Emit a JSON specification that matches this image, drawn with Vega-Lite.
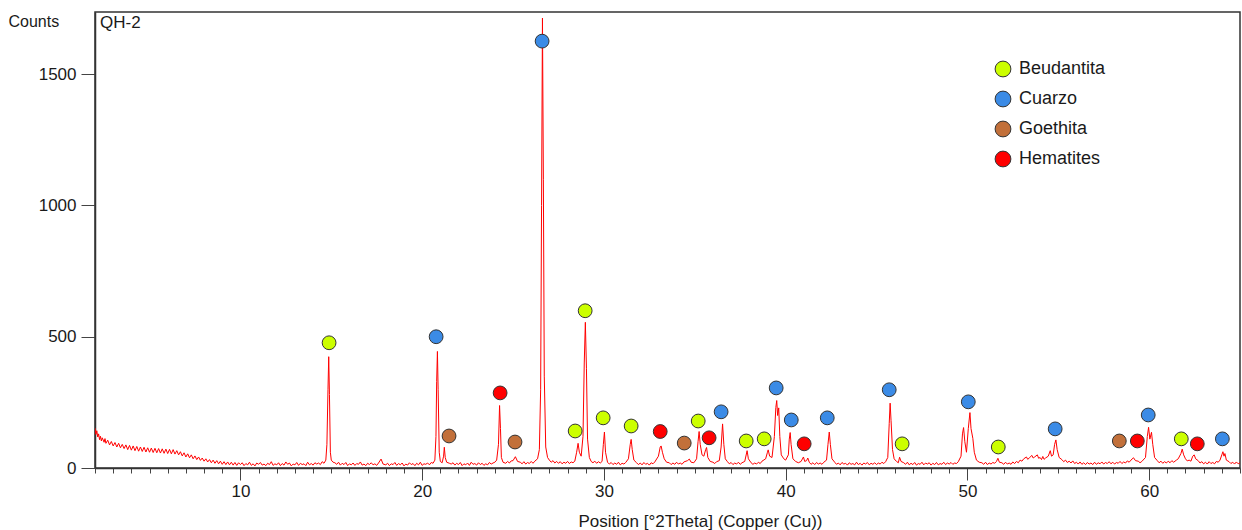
{
"$schema": "https://vega.github.io/schema/vega-lite/v6.json",
"width": 1145,
"height": 456,
"autosize": "none",
"padding": {"left": 95, "top": 12, "right": 2, "bottom": 62},
"background": "white",
"config": {
  "view": {"stroke": "#333333", "strokeWidth": 1.5},
  "font": "Liberation Sans",
  "axis": {"labelFont": "Liberation Sans", "titleFont": "Liberation Sans", "labelColor": "#1a1a1a", "titleColor": "#1a1a1a", "grid": false, "domainColor": "#333333", "domainWidth": 1.5, "tickColor": "#444444", "labelFontSize": 17, "titleFontSize": 17, "titleFontWeight": "normal", "labelOverlap": false}
},
"title": {"text": "QH-2", "anchor": "start", "frame": "group", "orient": "top", "offset": 0, "dx": 5, "dy": 33, "baseline": "alphabetic", "fontSize": 17, "fontWeight": "normal", "font": "Liberation Sans", "color": "#1a1a1a"},
"datasets": {
"xrd": [
{"t":2.0,"c":152},{"t":2.05,"c":128},{"t":2.1,"c":142},{"t":2.15,"c":118},{"t":2.2,"c":130},{"t":2.25,"c":108},{"t":2.3,"c":121},{"t":2.35,"c":103},{"t":2.4,"c":115},{"t":2.5,"c":98},{"t":2.55,"c":112},{"t":2.6,"c":94},{"t":2.7,"c":106},{"t":2.8,"c":88},{"t":2.9,"c":101},{"t":3.0,"c":84},{"t":3.1,"c":97},{"t":3.2,"c":80},{"t":3.3,"c":94},{"t":3.4,"c":77},{"t":3.5,"c":90},{"t":3.6,"c":74},{"t":3.7,"c":88},{"t":3.8,"c":70},{"t":3.9,"c":86},{"t":4.0,"c":68},{"t":4.1,"c":84},{"t":4.2,"c":66},{"t":4.3,"c":82},{"t":4.4,"c":64},{"t":4.5,"c":80},{"t":4.6,"c":63},{"t":4.7,"c":79},{"t":4.8,"c":61},{"t":4.9,"c":77},{"t":5.0,"c":60},{"t":5.1,"c":76},{"t":5.2,"c":59},{"t":5.3,"c":75},{"t":5.4,"c":58},{"t":5.5,"c":74},{"t":5.6,"c":57},{"t":5.7,"c":73},{"t":5.8,"c":56},{"t":5.9,"c":72},{"t":6.0,"c":55},{"t":6.1,"c":71},{"t":6.2,"c":54},{"t":6.3,"c":70},{"t":6.4,"c":53},{"t":6.5,"c":66},{"t":6.6,"c":50},{"t":6.7,"c":62},{"t":6.8,"c":46},{"t":6.9,"c":58},{"t":7.0,"c":42},{"t":7.1,"c":54},{"t":7.2,"c":39},{"t":7.3,"c":50},{"t":7.4,"c":35},{"t":7.5,"c":46},{"t":7.6,"c":32},{"t":7.7,"c":42},{"t":7.8,"c":29},{"t":7.9,"c":38},{"t":8.0,"c":26},{"t":8.1,"c":35},{"t":8.2,"c":23},{"t":8.3,"c":32},{"t":8.4,"c":20},{"t":8.5,"c":30},{"t":8.6,"c":18},{"t":8.7,"c":28},{"t":8.8,"c":16},{"t":8.9,"c":26},{"t":9.0,"c":14},{"t":9.1,"c":24},{"t":9.2,"c":13},{"t":9.3,"c":23},{"t":9.4,"c":12},{"t":9.5,"c":22},{"t":9.6,"c":11},{"t":9.7,"c":21},{"t":9.8,"c":10},{"t":9.9,"c":20},
{"t":10.0,"c":13},{"t":10.1,"c":20},{"t":10.2,"c":9},{"t":10.3,"c":17},{"t":10.4,"c":12},{"t":10.5,"c":22},{"t":10.6,"c":10},{"t":10.7,"c":16},{"t":10.8,"c":8},{"t":10.9,"c":19},{"t":11.0,"c":14},{"t":11.1,"c":21},{"t":11.2,"c":11},{"t":11.3,"c":15},{"t":11.4,"c":9},{"t":11.5,"c":18},{"t":11.6,"c":13},{"t":11.7,"c":24},{"t":11.8,"c":10},{"t":11.9,"c":16},{"t":12.0,"c":12},{"t":12.1,"c":20},{"t":12.2,"c":9},{"t":12.3,"c":17},{"t":12.4,"c":11},{"t":12.5,"c":23},{"t":12.6,"c":14},{"t":12.7,"c":19},{"t":12.8,"c":8},{"t":12.9,"c":15},{"t":13.0,"c":12},{"t":13.1,"c":21},{"t":13.2,"c":10},{"t":13.3,"c":18},{"t":13.4,"c":13},{"t":13.5,"c":16},{"t":13.6,"c":9},{"t":13.7,"c":22},{"t":13.8,"c":12},{"t":13.9,"c":17},{"t":14.0,"c":11},{"t":14.1,"c":20},{"t":14.2,"c":15},{"t":14.3,"c":19},{"t":14.4,"c":13},{"t":14.5,"c":24},{"t":14.6,"c":18},
{"t":14.7,"c":30},{"t":14.76,"c":90},{"t":14.82,"c":300},{"t":14.86,"c":424},{"t":14.9,"c":280},{"t":14.95,"c":60},{"t":15.0,"c":30},{"t":15.1,"c":22},
{"t":15.2,"c":20},{"t":15.3,"c":14},{"t":15.4,"c":22},{"t":15.5,"c":11},{"t":15.6,"c":18},{"t":15.7,"c":13},{"t":15.8,"c":21},{"t":15.9,"c":9},{"t":16.0,"c":16},{"t":16.1,"c":12},{"t":16.2,"c":19},{"t":16.3,"c":10},{"t":16.4,"c":17},{"t":16.5,"c":14},{"t":16.6,"c":23},{"t":16.7,"c":11},{"t":16.8,"c":15},{"t":16.9,"c":9},{"t":17.0,"c":18},{"t":17.1,"c":13},{"t":17.2,"c":20},{"t":17.3,"c":12},{"t":17.4,"c":16},{"t":17.5,"c":10},{"t":17.6,"c":19},{"t":17.74,"c":34},{"t":17.85,"c":15},
{"t":18.0,"c":12},{"t":18.1,"c":18},{"t":18.2,"c":9},{"t":18.3,"c":16},{"t":18.4,"c":13},{"t":18.5,"c":21},{"t":18.6,"c":10},{"t":18.7,"c":17},{"t":18.8,"c":12},{"t":18.9,"c":19},{"t":19.0,"c":8},{"t":19.1,"c":15},{"t":19.2,"c":11},{"t":19.3,"c":20},{"t":19.4,"c":13},{"t":19.5,"c":17},{"t":19.6,"c":9},{"t":19.7,"c":18},{"t":19.8,"c":12},{"t":19.9,"c":22},{"t":20.0,"c":10},{"t":20.1,"c":16},{"t":20.2,"c":14},{"t":20.3,"c":19},{"t":20.4,"c":12},{"t":20.5,"c":21},{"t":20.6,"c":18},
{"t":20.7,"c":30},{"t":20.76,"c":120},{"t":20.8,"c":330},{"t":20.84,"c":444},{"t":20.88,"c":300},{"t":20.94,"c":60},{"t":21.0,"c":25},{"t":21.1,"c":20},{"t":21.18,"c":45},{"t":21.22,"c":79},{"t":21.27,"c":40},{"t":21.35,"c":22},{"t":21.5,"c":18},
{"t":21.6,"c":15},{"t":21.7,"c":20},{"t":21.8,"c":11},{"t":21.9,"c":18},{"t":22.0,"c":13},{"t":22.1,"c":21},{"t":22.2,"c":9},{"t":22.3,"c":16},{"t":22.4,"c":12},{"t":22.5,"c":19},{"t":22.6,"c":10},{"t":22.7,"c":22},{"t":22.8,"c":14},{"t":22.9,"c":17},{"t":23.0,"c":11},{"t":23.1,"c":20},{"t":23.2,"c":13},{"t":23.3,"c":18},{"t":23.4,"c":10},{"t":23.5,"c":16},{"t":23.6,"c":12},{"t":23.7,"c":21},{"t":23.8,"c":15},{"t":23.9,"c":19},{"t":24.0,"c":22},
{"t":24.1,"c":30},{"t":24.2,"c":90},{"t":24.26,"c":238},{"t":24.31,"c":150},{"t":24.36,"c":40},{"t":24.45,"c":22},{"t":24.6,"c":18},{"t":24.7,"c":25},{"t":24.8,"c":19},{"t":24.9,"c":27},{"t":25.0,"c":28},{"t":25.13,"c":43},{"t":25.25,"c":25},
{"t":25.4,"c":22},{"t":25.5,"c":16},{"t":25.6,"c":24},{"t":25.7,"c":15},{"t":25.8,"c":21},{"t":25.9,"c":17},{"t":26.0,"c":25},{"t":26.1,"c":18},{"t":26.2,"c":26},
{"t":26.35,"c":35},{"t":26.45,"c":70},{"t":26.52,"c":300},{"t":26.57,"c":1000},{"t":26.62,"c":1714},{"t":26.67,"c":1100},{"t":26.72,"c":350},{"t":26.8,"c":80},{"t":26.9,"c":40},
{"t":27.0,"c":30},{"t":27.1,"c":22},{"t":27.2,"c":28},{"t":27.3,"c":19},{"t":27.4,"c":25},{"t":27.5,"c":18},{"t":27.6,"c":24},{"t":27.7,"c":16},{"t":27.8,"c":22},{"t":27.9,"c":18},{"t":28.0,"c":25},{"t":28.1,"c":17},{"t":28.2,"c":23},{"t":28.3,"c":20},{"t":28.4,"c":26},
{"t":28.5,"c":60},{"t":28.58,"c":94},{"t":28.65,"c":60},{"t":28.75,"c":45},{"t":28.85,"c":120},{"t":28.92,"c":400},{"t":28.98,"c":555},{"t":29.04,"c":380},{"t":29.1,"c":110},{"t":29.2,"c":40},{"t":29.3,"c":25},
{"t":29.4,"c":20},{"t":29.5,"c":26},{"t":29.6,"c":18},{"t":29.7,"c":24},{"t":29.8,"c":19},{"t":29.9,"c":25},{"t":29.97,"c":90},{"t":30.03,"c":137},{"t":30.09,"c":60},
{"t":30.2,"c":22},{"t":30.3,"c":15},{"t":30.4,"c":21},{"t":30.5,"c":13},{"t":30.6,"c":19},{"t":30.7,"c":14},{"t":30.8,"c":22},{"t":30.9,"c":12},{"t":31.0,"c":18},{"t":31.1,"c":15},{"t":31.2,"c":21},
{"t":31.35,"c":35},{"t":31.45,"c":90},{"t":31.5,"c":109},{"t":31.56,"c":70},{"t":31.65,"c":30},
{"t":31.8,"c":20},{"t":31.9,"c":13},{"t":32.0,"c":19},{"t":32.1,"c":12},{"t":32.2,"c":21},{"t":32.3,"c":14},{"t":32.4,"c":18},{"t":32.5,"c":11},{"t":32.6,"c":20},{"t":32.7,"c":16},{"t":32.8,"c":23},
{"t":33.0,"c":45},{"t":33.1,"c":80},{"t":33.15,"c":84},{"t":33.22,"c":60},{"t":33.32,"c":35},{"t":33.45,"c":22},
{"t":33.6,"c":20},{"t":33.7,"c":13},{"t":33.8,"c":19},{"t":33.9,"c":14},{"t":34.0,"c":22},{"t":34.1,"c":15},{"t":34.2,"c":19},{"t":34.3,"c":14},{"t":34.4,"c":23},
{"t":34.6,"c":28},{"t":34.7,"c":34},{"t":34.8,"c":22},{"t":34.95,"c":20},{"t":35.1,"c":35},{"t":35.18,"c":100},{"t":35.24,"c":139},{"t":35.3,"c":90},{"t":35.4,"c":50},{"t":35.5,"c":45},{"t":35.6,"c":70},{"t":35.65,"c":78},{"t":35.72,"c":40},{"t":35.85,"c":25},{"t":36.0,"c":22},{"t":36.1,"c":17},{"t":36.2,"c":24},{"t":36.35,"c":28},{"t":36.45,"c":80},{"t":36.53,"c":168},{"t":36.6,"c":90},{"t":36.68,"c":35},
{"t":36.8,"c":24},{"t":36.9,"c":16},{"t":37.0,"c":21},{"t":37.1,"c":13},{"t":37.2,"c":19},{"t":37.3,"c":15},{"t":37.4,"c":22},{"t":37.5,"c":14},{"t":37.6,"c":20},
{"t":37.75,"c":25},{"t":37.88,"c":66},{"t":37.95,"c":35},
{"t":38.1,"c":20},{"t":38.2,"c":14},{"t":38.3,"c":19},{"t":38.4,"c":15},{"t":38.5,"c":22},{"t":38.6,"c":17},{"t":38.7,"c":26},
{"t":38.9,"c":35},{"t":39.0,"c":60},{"t":39.04,"c":69},{"t":39.12,"c":45},{"t":39.25,"c":40},{"t":39.38,"c":120},{"t":39.46,"c":230},{"t":39.51,"c":257},{"t":39.56,"c":200},{"t":39.62,"c":229},{"t":39.68,"c":120},{"t":39.76,"c":50},{"t":39.9,"c":35},{"t":40.0,"c":30},{"t":40.15,"c":50},{"t":40.2,"c":110},{"t":40.25,"c":135},{"t":40.3,"c":90},{"t":40.4,"c":35},{"t":40.55,"c":25},{"t":40.7,"c":20},{"t":40.85,"c":25},{"t":40.98,"c":42},{"t":41.05,"c":25},{"t":41.15,"c":28},{"t":41.22,"c":38},{"t":41.3,"c":22},
{"t":41.4,"c":14},{"t":41.5,"c":20},{"t":41.6,"c":13},{"t":41.7,"c":21},{"t":41.8,"c":15},{"t":41.9,"c":19},{"t":42.0,"c":14},{"t":42.1,"c":22},
{"t":42.25,"c":30},{"t":42.33,"c":90},{"t":42.4,"c":137},{"t":42.46,"c":90},{"t":42.55,"c":35},
{"t":42.7,"c":22},{"t":42.8,"c":14},{"t":42.9,"c":19},{"t":43.0,"c":12},{"t":43.1,"c":21},{"t":43.2,"c":15},{"t":43.3,"c":18},{"t":43.4,"c":11},{"t":43.5,"c":20},{"t":43.6,"c":14},{"t":43.7,"c":17},{"t":43.8,"c":12},{"t":43.9,"c":22},{"t":44.0,"c":13},{"t":44.1,"c":18},{"t":44.2,"c":11},{"t":44.3,"c":19},{"t":44.4,"c":15},{"t":44.5,"c":21},{"t":44.6,"c":12},{"t":44.7,"c":18},{"t":44.8,"c":14},{"t":44.9,"c":20},{"t":45.0,"c":13},{"t":45.1,"c":19},{"t":45.2,"c":15},{"t":45.3,"c":22},{"t":45.4,"c":17},{"t":45.5,"c":24},
{"t":45.62,"c":40},{"t":45.7,"c":170},{"t":45.75,"c":247},{"t":45.8,"c":180},{"t":45.88,"c":70},{"t":45.97,"c":35},{"t":46.1,"c":25},{"t":46.2,"c":20},{"t":46.27,"c":41},{"t":46.35,"c":25},
{"t":46.5,"c":20},{"t":46.6,"c":14},{"t":46.7,"c":22},{"t":46.8,"c":12},{"t":46.9,"c":18},{"t":47.0,"c":13},{"t":47.1,"c":21},{"t":47.2,"c":11},{"t":47.3,"c":17},{"t":47.4,"c":14},{"t":47.5,"c":22},{"t":47.6,"c":12},{"t":47.7,"c":19},{"t":47.8,"c":15},{"t":47.9,"c":20},{"t":48.0,"c":11},{"t":48.1,"c":18},{"t":48.2,"c":13},{"t":48.3,"c":21},{"t":48.4,"c":12},{"t":48.5,"c":17},{"t":48.6,"c":14},{"t":48.7,"c":22},{"t":48.8,"c":13},{"t":48.9,"c":19},{"t":49.0,"c":15},{"t":49.1,"c":21},{"t":49.2,"c":14},{"t":49.3,"c":19},{"t":49.4,"c":17},{"t":49.5,"c":24},
{"t":49.65,"c":45},{"t":49.73,"c":130},{"t":49.79,"c":154},{"t":49.86,"c":100},{"t":49.95,"c":60},{"t":50.05,"c":150},{"t":50.14,"c":211},{"t":50.2,"c":150},{"t":50.3,"c":113},{"t":50.38,"c":60},{"t":50.5,"c":30},{"t":50.65,"c":22},
{"t":50.8,"c":20},{"t":50.9,"c":14},{"t":51.0,"c":22},{"t":51.1,"c":13},{"t":51.2,"c":19},{"t":51.3,"c":15},{"t":51.4,"c":21},{"t":51.5,"c":18},
{"t":51.6,"c":25},{"t":51.68,"c":37},{"t":51.76,"c":22},
{"t":51.9,"c":20},{"t":52.0,"c":14},{"t":52.1,"c":22},{"t":52.2,"c":15},{"t":52.3,"c":19},{"t":52.4,"c":14},{"t":52.5,"c":23},{"t":52.6,"c":17},{"t":52.7,"c":25},{"t":52.8,"c":20},{"t":52.9,"c":30},
{"t":53.0,"c":26},{"t":53.1,"c":35},{"t":53.25,"c":42},{"t":53.32,"c":33},{"t":53.4,"c":38},{"t":53.55,"c":48},{"t":53.62,"c":38},{"t":53.7,"c":42},{"t":53.85,"c":50},{"t":53.92,"c":37},{"t":54.0,"c":40},{"t":54.08,"c":32},{"t":54.15,"c":44},{"t":54.22,"c":33},{"t":54.3,"c":38},{"t":54.45,"c":45},{"t":54.56,"c":66},{"t":54.63,"c":45},{"t":54.72,"c":50},{"t":54.8,"c":90},{"t":54.87,"c":107},{"t":54.94,"c":70},{"t":55.05,"c":40},{"t":55.2,"c":32},{"t":55.3,"c":24},{"t":55.4,"c":30},{"t":55.5,"c":21},
{"t":55.6,"c":26},{"t":55.7,"c":19},{"t":55.8,"c":27},{"t":55.9,"c":17},{"t":56.0,"c":22},{"t":56.1,"c":15},{"t":56.2,"c":23},{"t":56.3,"c":14},{"t":56.4,"c":20},{"t":56.5,"c":13},{"t":56.6,"c":21},{"t":56.7,"c":15},{"t":56.8,"c":19},{"t":56.9,"c":13},{"t":57.0,"c":22},{"t":57.1,"c":14},{"t":57.2,"c":20},{"t":57.3,"c":16},{"t":57.4,"c":23},{"t":57.5,"c":15},{"t":57.6,"c":21},{"t":57.7,"c":17},{"t":57.8,"c":24},{"t":57.9,"c":16},{"t":58.0,"c":22},{"t":58.1,"c":15},{"t":58.2,"c":21},{"t":58.3,"c":18},{"t":58.4,"c":25},{"t":58.5,"c":17},{"t":58.6,"c":23},{"t":58.7,"c":19},{"t":58.8,"c":27},
{"t":58.9,"c":22},{"t":59.0,"c":30},{"t":59.14,"c":39},{"t":59.25,"c":28},{"t":59.4,"c":26},{"t":59.5,"c":20},{"t":59.6,"c":25},{"t":59.8,"c":40},{"t":59.9,"c":120},{"t":59.97,"c":155},{"t":60.04,"c":110},{"t":60.13,"c":136},{"t":60.2,"c":90},{"t":60.3,"c":40},
{"t":60.45,"c":28},{"t":60.55,"c":20},{"t":60.65,"c":26},{"t":60.75,"c":18},{"t":60.85,"c":24},{"t":60.95,"c":19},{"t":61.05,"c":26},{"t":61.15,"c":20},{"t":61.25,"c":28},{"t":61.35,"c":22},
{"t":61.5,"c":30},{"t":61.6,"c":35},{"t":61.75,"c":55},{"t":61.82,"c":72},{"t":61.9,"c":50},{"t":62.0,"c":35},{"t":62.1,"c":27},{"t":62.2,"c":30},{"t":62.3,"c":26},{"t":62.4,"c":45},{"t":62.48,"c":50},{"t":62.56,"c":35},
{"t":62.7,"c":28},{"t":62.8,"c":19},{"t":62.9,"c":24},{"t":63.0,"c":16},{"t":63.1,"c":22},{"t":63.2,"c":15},{"t":63.3,"c":24},{"t":63.4,"c":17},{"t":63.5,"c":21},{"t":63.6,"c":16},{"t":63.7,"c":25},{"t":63.8,"c":22},
{"t":63.9,"c":30},{"t":64.0,"c":50},{"t":64.06,"c":62},{"t":64.12,"c":45},{"t":64.17,"c":55},{"t":64.25,"c":30},
{"t":64.4,"c":24},{"t":64.5,"c":17},{"t":64.6,"c":22},{"t":64.7,"c":15},{"t":64.8,"c":23},{"t":64.9,"c":16},{"t":65.0,"c":20}
],
"phases": [
{"t":14.88,"c":477,"m":"Beudantita"},{"t":28.42,"c":141,"m":"Beudantita"},{"t":28.97,"c":599,"m":"Beudantita"},{"t":29.96,"c":191,"m":"Beudantita"},{"t":31.5,"c":160,"m":"Beudantita"},{"t":35.19,"c":179,"m":"Beudantita"},{"t":37.83,"c":103,"m":"Beudantita"},{"t":38.82,"c":111,"m":"Beudantita"},{"t":46.41,"c":92,"m":"Beudantita"},{"t":51.7,"c":80,"m":"Beudantita"},{"t":61.77,"c":111,"m":"Beudantita"},
{"t":20.77,"c":500,"m":"Cuarzo"},{"t":26.6,"c":1626,"m":"Cuarzo"},{"t":36.45,"c":214,"m":"Cuarzo"},{"t":39.48,"c":305,"m":"Cuarzo"},{"t":40.31,"c":183,"m":"Cuarzo"},{"t":42.29,"c":191,"m":"Cuarzo"},{"t":45.7,"c":298,"m":"Cuarzo"},{"t":50.05,"c":252,"m":"Cuarzo"},{"t":54.83,"c":149,"m":"Cuarzo"},{"t":59.95,"c":202,"m":"Cuarzo"},{"t":64.03,"c":111,"m":"Cuarzo"},
{"t":21.48,"c":122,"m":"Goethita"},{"t":25.11,"c":99,"m":"Goethita"},{"t":34.42,"c":95,"m":"Goethita"},{"t":58.36,"c":103,"m":"Goethita"},
{"t":24.29,"c":286,"m":"Hematites"},{"t":33.1,"c":139,"m":"Hematites"},{"t":35.79,"c":115,"m":"Hematites"},{"t":41.02,"c":92,"m":"Hematites"},{"t":59.35,"c":103,"m":"Hematites"},{"t":62.65,"c":92,"m":"Hematites"}
]
},
"encoding": {
  "x": {"field": "t", "type": "quantitative",
    "scale": {"domain": [2, 65], "nice": false, "zero": false},
    "axis": {"title": "Position [°2Theta] (Copper (Cu))", "values": [2,3,4,5,6,7,8,9,10,11,12,13,14,15,16,17,18,19,20,21,22,23,24,25,26,27,28,29,30,31,32,33,34,35,36,37,38,39,40,41,42,43,44,45,46,47,48,49,50,51,52,53,54,55,56,57,58,59,60,61,62,63,64,65],
      "labelExpr": "datum.value % 10 === 0 ? datum.label : ''", "labelOverlap": false, "labelFlush": false,
      "tickSize": {"condition": {"test": "datum.value % 10 === 0", "value": 12}, "value": 5},
      "labelPadding": 3, "titleX": 605, "titleY": 58, "titleBaseline": "alphabetic", "titleAnchor": "middle", "titleAlign": "center"}},
  "y": {"field": "c", "type": "quantitative",
    "scale": {"domain": [0, 1737], "nice": false},
    "axis": {"title": "Counts", "values": [0, 500, 1000, 1500], "format": "d", "tickSize": 14, "labelPadding": 5,
      "titleAngle": 0, "titleX": -87, "titleY": 14, "titleAlign": "left", "titleBaseline": "alphabetic", "titleFontSize": 16}}
},
"layer": [
{
  "data": {"name": "xrd"},
  "mark": {"type": "line", "color": "#ff0000", "strokeWidth": 1, "clip": true}
},
{
  "data": {"name": "phases"},
  "mark": {"type": "point", "shape": "circle", "filled": true, "opacity": 1, "stroke": "#333333", "strokeWidth": 1, "size": 190},
  "encoding": {
    "color": {"field": "m", "type": "nominal",
      "scale": {"domain": ["Beudantita", "Cuarzo", "Goethita", "Hematites"], "range": ["#ccff00", "#3b8be6", "#c2703a", "#ff0000"]},
      "legend": {"title": null, "orient": "none", "legendX": 899, "legendY": 48, "padding": 0, "symbolSize": 250, "symbolStrokeColor": "#333333", "symbolStrokeWidth": 1, "symbolOpacity": 1, "labelFontSize": 18, "labelFont": "Liberation Sans", "labelColor": "#1a1a1a", "labelOffset": 7, "rowPadding": 10}}
  }
}
]
}
